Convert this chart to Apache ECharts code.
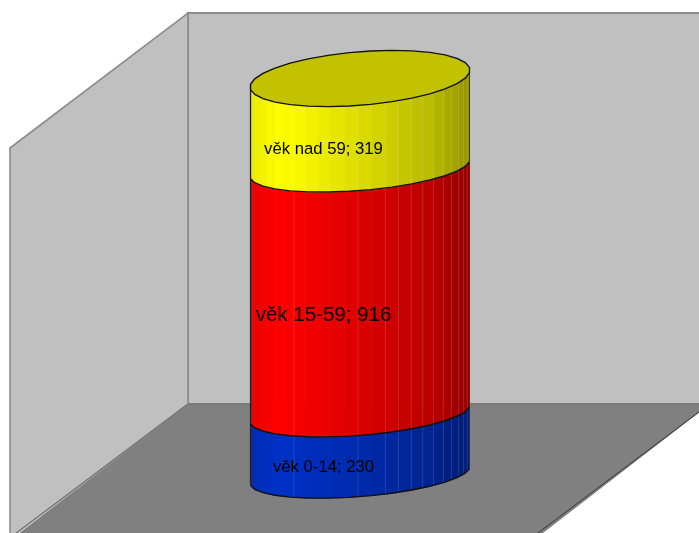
<!DOCTYPE html>
<html>
<head>
<meta charset="utf-8">
<style>html,body{margin:0;padding:0;background:#fff}#c{width:699px;height:533px}</style>
<script src="https://cdn.jsdelivr.net/npm/echarts@6/dist/echarts.min.js"></script>
</head>
<body>
<div id="c"></div>
<script>
var categories = ['obyvatelstvo'];
var seriesNames = ['věk 0-14', 'věk 15-59', 'věk nad 59'];
var seriesValues = [230, 916, 319];

// styling constants
var baseColors = [[0, 49, 198], [255, 0, 0], [255, 255, 0]];
var capColor = '#C2C200';
var labelSizes = [16.7, 20.5, 16.7];
var labelDrop = [23, 25, 24];
var capDepth = [21.6, 22, 22.6, 26.8];
var capLift = [0, 0, 0, 4];
var skew = 8.5;
var labelX = 323.5;
var FACET = 11.25 * Math.PI / 180, FACET0 = FACET / 2;
var STEP = 7.2;

var chart = echarts.init(document.getElementById('c'));

function shade(x) {
  var p = [[250, .92], [280, 1], [345, .89], [430, .73], [470, .58]];
  for (var i = 1; i < p.length; i++) {
    if (x <= p[i][0]) {
      var f = (x - p[i - 1][0]) / (p[i][0] - p[i - 1][0]);
      return p[i - 1][1] + f * (p[i][1] - p[i - 1][1]);
    }
  }
  return p[p.length - 1][1];
}
function angles() {
  var a = [0];
  for (var d = 4.6; d < 180; d += STEP) a.push(d * Math.PI / 180);
  a.push(Math.PI);
  return a;
}
function vertex(cx, cy, rx, depth, t) {
  return [cx + rx * Math.cos(t), cy + depth * Math.sin(t) - skew * Math.cos(t)];
}
// point on the faceted rim
function pt(cx, cy, rx, depth, t) {
  var k = Math.floor((t - FACET0) / FACET);
  if (k > 15) k = 15 + (t > FACET0 + 16 * FACET ? 1 : 0);
  var a = FACET0 + k * FACET, f = (t - a) / FACET;
  var p = vertex(cx, cy, rx, depth, a), q = vertex(cx, cy, rx, depth, a + FACET);
  return [p[0] + f * (q[0] - p[0]), p[1] + f * (q[1] - p[1])];
}

function renderStack(index) {
  return function (params, api) {
    var lo = api.value(1), hi = api.value(2);
    var pLo = api.coord([0, lo]), pHi = api.coord([0, hi]);
    var rx = api.size([1, 0])[0] / 2, cx = pLo[0];
    var yLo = pLo[1] - capLift[index], yHi = pHi[1] - capLift[index + 1];
    var dLo = capDepth[index], dHi = capDepth[index + 1];
    var ts = angles(), kids = [], i;
    for (i = 0; i < ts.length - 1; i++) {
      var a = ts[i], b = ts[i + 1];
      var s = shade(cx + rx * Math.cos((a + b) / 2)), c = baseColors[index];
      var col = 'rgb(' + c.map(function (v) { return Math.round(v * s); }).join(',') + ')';
      kids.push({
        type: 'polygon',
        shape: { points: [pt(cx, yLo, rx, dLo, a), pt(cx, yLo, rx, dLo, b), pt(cx, yHi, rx, dHi, b), pt(cx, yHi, rx, dHi, a)] },
        style: { fill: col, stroke: col, lineWidth: 0.7 }
      });
    }
    for (i = 1; i < ts.length - 1; i++) {
      var sx = cx + rx * Math.cos(ts[i]);
      if (sx > 380 || i === 13 || i === 18) {
        var p0 = pt(cx, yLo, rx, dLo, ts[i]), p1 = pt(cx, yHi, rx, dHi, ts[i]);
        kids.push({ type: 'line', shape: { x1: p0[0], y1: p0[1], x2: p1[0], y2: p1[1] }, style: { stroke: 'rgba(255,255,255,0.16)', lineWidth: 0.8 } });
      }
    }
    var lower = [];
    for (i = 0; i <= 15; i++) lower.push(vertex(cx, yLo, rx, dLo, FACET0 + i * FACET));
    kids.push({ type: 'polyline', shape: { points: lower }, style: { stroke: '#111', lineWidth: 1.4, fill: null } });
    var lTop = vertex(cx, yHi, rx, dHi, FACET0 + 15 * FACET), rTop = vertex(cx, yHi, rx, dHi, FACET0);
    kids.push({ type: 'line', shape: { x1: lower[15][0], y1: lower[15][1], x2: lTop[0], y2: lTop[1] }, style: { stroke: '#222', lineWidth: 1.3 } });
    kids.push({ type: 'line', shape: { x1: lower[0][0], y1: lower[0][1], x2: rTop[0], y2: rTop[1] }, style: { stroke: '#333', lineWidth: 1 } });
    if (index === seriesValues.length - 1) {
      var ring = [];
      for (i = 0; i < 32; i++) ring.push(vertex(cx, yHi, rx, dHi, FACET0 + i * FACET));
      kids.push({ type: 'polygon', shape: { points: ring }, style: { fill: capColor, stroke: '#111', lineWidth: 1.4 } });
    }
    var mid = api.coord([0, (lo + hi) / 2]);
    kids.push({
      type: 'text',
      style: {
        text: seriesNames[index] + '; ' + seriesValues[index],
        x: labelX, y: mid[1] + labelDrop[index],
        font: labelSizes[index] + 'px "Liberation Sans", Arial, sans-serif',
        fill: '#000', align: 'center', verticalAlign: 'middle'
      }
    });
    return { type: 'group', children: kids };
  };
}

var total = seriesValues.reduce(function (s, v) { return s + v; }, 0);
var cum = 0;
var series = seriesValues.map(function (v, i) {
  var row = [0, cum, cum + v];
  cum += v;
  return {
    type: 'custom', name: seriesNames[i], coordinateSystem: 'cartesian2d',
    clip: false, silent: true, z: 5 + i,
    encode: { x: 0, y: [1, 2] },
    renderItem: renderStack(i), data: [row]
  };
});

var wall = '#C0C0C0', floor = '#808080', edge = '#8c8c8c';
chart.setOption({
  animation: false,
  backgroundColor: '#fff',
  tooltip: { show: false },
  legend: { show: false },
  grid: { left: 250, width: 220, top: 82.5, height: 392.5 },
  xAxis: { type: 'category', data: categories, show: false },
  yAxis: { type: 'value', min: 0, max: total, show: false },
  graphic: { elements: [
    { type: 'polygon', z: 0, silent: true, shape: { points: [[188, 13], [705, 13], [705, 404], [188, 404]] }, style: { fill: wall, stroke: edge, lineWidth: 2 } },
    { type: 'polygon', z: 1, silent: true, shape: { points: [[10, 148], [188, 13], [188, 404], [10, 538]] }, style: { fill: wall, stroke: edge, lineWidth: 1.6 } },
    { type: 'polygon', z: 2, silent: true, shape: { points: [[188, 404], [710, 404], [534, 540], [10, 540]] }, style: { fill: floor, stroke: null } },
    { type: 'line', z: 3, silent: true, shape: { x1: 188, y1: 404, x2: 699, y2: 404 }, style: { stroke: '#777', lineWidth: 1.5 } },
    { type: 'line', z: 3, silent: true, shape: { x1: 188, y1: 404, x2: 16, y2: 533 }, style: { stroke: '#707070', lineWidth: 1 } },
    { type: 'line', z: 3, silent: true, shape: { x1: 699, y1: 412, x2: 538, y2: 533 }, style: { stroke: '#333', lineWidth: 1 } }
  ] },
  series: series
});
</script>
</body>
</html>
